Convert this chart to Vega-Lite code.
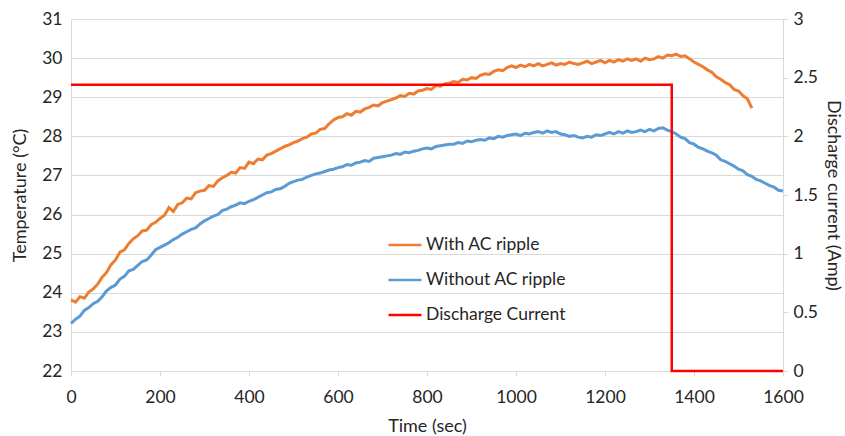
{
  "$schema": "https://vega.github.io/schema/vega-lite/v6.json",
  "width": 712,
  "height": 352,
  "autosize": {"type": "none"},
  "padding": {"left": 71, "top": 19, "right": 62, "bottom": 65},
  "background": "white",
  "config": {
    "font": "Lato",
    "view": {"stroke": null},
    "axis": {"labelColor": "#262626", "titleColor": "#262626", "labelFontSize": 17.5, "titleFontSize": 18, "titleFontWeight": "normal", "labelFont": "Lato", "titleFont": "Lato"},
    "legend": {"labelFont": "Lato", "labelColor": "#262626"}
  },
  "datasets": {
    "temps": [
      {"t":0,"With AC ripple":23.82,"Without AC ripple":23.22},
      {"t":10,"With AC ripple":23.76,"Without AC ripple":23.32},
      {"t":20,"With AC ripple":23.9,"Without AC ripple":23.4},
      {"t":30,"With AC ripple":23.86,"Without AC ripple":23.55},
      {"t":40,"With AC ripple":24.02,"Without AC ripple":23.62},
      {"t":50,"With AC ripple":24.1,"Without AC ripple":23.72},
      {"t":60,"With AC ripple":24.22,"Without AC ripple":23.78},
      {"t":70,"With AC ripple":24.4,"Without AC ripple":23.9},
      {"t":80,"With AC ripple":24.52,"Without AC ripple":24.05},
      {"t":90,"With AC ripple":24.72,"Without AC ripple":24.14},
      {"t":100,"With AC ripple":24.84,"Without AC ripple":24.2},
      {"t":110,"With AC ripple":25.04,"Without AC ripple":24.35},
      {"t":120,"With AC ripple":25.1,"Without AC ripple":24.42},
      {"t":130,"With AC ripple":25.26,"Without AC ripple":24.56},
      {"t":140,"With AC ripple":25.38,"Without AC ripple":24.6},
      {"t":150,"With AC ripple":25.46,"Without AC ripple":24.7},
      {"t":160,"With AC ripple":25.58,"Without AC ripple":24.8},
      {"t":170,"With AC ripple":25.6,"Without AC ripple":24.84},
      {"t":180,"With AC ripple":25.74,"Without AC ripple":24.96},
      {"t":190,"With AC ripple":25.8,"Without AC ripple":25.1},
      {"t":200,"With AC ripple":25.9,"Without AC ripple":25.16},
      {"t":210,"With AC ripple":25.98,"Without AC ripple":25.22},
      {"t":220,"With AC ripple":26.18,"Without AC ripple":25.28},
      {"t":230,"With AC ripple":26.08,"Without AC ripple":25.36},
      {"t":240,"With AC ripple":26.26,"Without AC ripple":25.42},
      {"t":250,"With AC ripple":26.3,"Without AC ripple":25.5},
      {"t":260,"With AC ripple":26.42,"Without AC ripple":25.56},
      {"t":270,"With AC ripple":26.4,"Without AC ripple":25.62},
      {"t":280,"With AC ripple":26.56,"Without AC ripple":25.66},
      {"t":290,"With AC ripple":26.6,"Without AC ripple":25.76},
      {"t":300,"With AC ripple":26.62,"Without AC ripple":25.84},
      {"t":310,"With AC ripple":26.74,"Without AC ripple":25.9},
      {"t":320,"With AC ripple":26.72,"Without AC ripple":25.96},
      {"t":330,"With AC ripple":26.86,"Without AC ripple":26.0},
      {"t":340,"With AC ripple":26.94,"Without AC ripple":26.1},
      {"t":350,"With AC ripple":27.0,"Without AC ripple":26.14},
      {"t":360,"With AC ripple":27.08,"Without AC ripple":26.2},
      {"t":370,"With AC ripple":27.06,"Without AC ripple":26.24},
      {"t":380,"With AC ripple":27.2,"Without AC ripple":26.3},
      {"t":390,"With AC ripple":27.18,"Without AC ripple":26.28},
      {"t":400,"With AC ripple":27.34,"Without AC ripple":26.34},
      {"t":410,"With AC ripple":27.3,"Without AC ripple":26.38},
      {"t":420,"With AC ripple":27.42,"Without AC ripple":26.44},
      {"t":430,"With AC ripple":27.4,"Without AC ripple":26.5},
      {"t":440,"With AC ripple":27.52,"Without AC ripple":26.56},
      {"t":450,"With AC ripple":27.56,"Without AC ripple":26.58},
      {"t":460,"With AC ripple":27.62,"Without AC ripple":26.64},
      {"t":470,"With AC ripple":27.68,"Without AC ripple":26.66},
      {"t":480,"With AC ripple":27.74,"Without AC ripple":26.72},
      {"t":490,"With AC ripple":27.78,"Without AC ripple":26.8},
      {"t":500,"With AC ripple":27.84,"Without AC ripple":26.84},
      {"t":510,"With AC ripple":27.88,"Without AC ripple":26.88},
      {"t":520,"With AC ripple":27.94,"Without AC ripple":26.9},
      {"t":530,"With AC ripple":27.98,"Without AC ripple":26.96},
      {"t":540,"With AC ripple":28.06,"Without AC ripple":27.0},
      {"t":550,"With AC ripple":28.08,"Without AC ripple":27.04},
      {"t":560,"With AC ripple":28.18,"Without AC ripple":27.06},
      {"t":570,"With AC ripple":28.2,"Without AC ripple":27.1},
      {"t":580,"With AC ripple":28.32,"Without AC ripple":27.14},
      {"t":590,"With AC ripple":28.42,"Without AC ripple":27.16},
      {"t":600,"With AC ripple":28.48,"Without AC ripple":27.2},
      {"t":610,"With AC ripple":28.5,"Without AC ripple":27.22},
      {"t":620,"With AC ripple":28.58,"Without AC ripple":27.28},
      {"t":630,"With AC ripple":28.54,"Without AC ripple":27.26},
      {"t":640,"With AC ripple":28.64,"Without AC ripple":27.32},
      {"t":650,"With AC ripple":28.62,"Without AC ripple":27.34},
      {"t":660,"With AC ripple":28.7,"Without AC ripple":27.38},
      {"t":670,"With AC ripple":28.74,"Without AC ripple":27.36},
      {"t":680,"With AC ripple":28.8,"Without AC ripple":27.44},
      {"t":690,"With AC ripple":28.78,"Without AC ripple":27.46},
      {"t":700,"With AC ripple":28.86,"Without AC ripple":27.48},
      {"t":710,"With AC ripple":28.9,"Without AC ripple":27.5},
      {"t":720,"With AC ripple":28.94,"Without AC ripple":27.52},
      {"t":730,"With AC ripple":28.98,"Without AC ripple":27.56},
      {"t":740,"With AC ripple":29.04,"Without AC ripple":27.54},
      {"t":750,"With AC ripple":29.02,"Without AC ripple":27.6},
      {"t":760,"With AC ripple":29.1,"Without AC ripple":27.58},
      {"t":770,"With AC ripple":29.08,"Without AC ripple":27.62},
      {"t":780,"With AC ripple":29.16,"Without AC ripple":27.64},
      {"t":790,"With AC ripple":29.18,"Without AC ripple":27.68},
      {"t":800,"With AC ripple":29.22,"Without AC ripple":27.7},
      {"t":810,"With AC ripple":29.2,"Without AC ripple":27.68},
      {"t":820,"With AC ripple":29.3,"Without AC ripple":27.74},
      {"t":830,"With AC ripple":29.28,"Without AC ripple":27.76},
      {"t":840,"With AC ripple":29.34,"Without AC ripple":27.78},
      {"t":850,"With AC ripple":29.36,"Without AC ripple":27.8},
      {"t":860,"With AC ripple":29.4,"Without AC ripple":27.8},
      {"t":870,"With AC ripple":29.38,"Without AC ripple":27.84},
      {"t":880,"With AC ripple":29.46,"Without AC ripple":27.82},
      {"t":890,"With AC ripple":29.44,"Without AC ripple":27.88},
      {"t":900,"With AC ripple":29.5,"Without AC ripple":27.86},
      {"t":910,"With AC ripple":29.48,"Without AC ripple":27.9},
      {"t":920,"With AC ripple":29.56,"Without AC ripple":27.92},
      {"t":930,"With AC ripple":29.6,"Without AC ripple":27.9},
      {"t":940,"With AC ripple":29.58,"Without AC ripple":27.96},
      {"t":950,"With AC ripple":29.66,"Without AC ripple":27.94},
      {"t":960,"With AC ripple":29.7,"Without AC ripple":28.0},
      {"t":970,"With AC ripple":29.68,"Without AC ripple":27.98},
      {"t":980,"With AC ripple":29.76,"Without AC ripple":28.02},
      {"t":990,"With AC ripple":29.8,"Without AC ripple":28.04},
      {"t":1000,"With AC ripple":29.76,"Without AC ripple":28.06},
      {"t":1010,"With AC ripple":29.82,"Without AC ripple":28.02},
      {"t":1020,"With AC ripple":29.78,"Without AC ripple":28.08},
      {"t":1030,"With AC ripple":29.84,"Without AC ripple":28.06},
      {"t":1040,"With AC ripple":29.8,"Without AC ripple":28.1},
      {"t":1050,"With AC ripple":29.86,"Without AC ripple":28.12},
      {"t":1060,"With AC ripple":29.8,"Without AC ripple":28.08},
      {"t":1070,"With AC ripple":29.84,"Without AC ripple":28.14},
      {"t":1080,"With AC ripple":29.88,"Without AC ripple":28.1},
      {"t":1090,"With AC ripple":29.82,"Without AC ripple":28.12},
      {"t":1100,"With AC ripple":29.86,"Without AC ripple":28.06},
      {"t":1110,"With AC ripple":29.84,"Without AC ripple":28.04},
      {"t":1120,"With AC ripple":29.9,"Without AC ripple":28.0},
      {"t":1130,"With AC ripple":29.86,"Without AC ripple":28.02},
      {"t":1140,"With AC ripple":29.84,"Without AC ripple":27.98},
      {"t":1150,"With AC ripple":29.88,"Without AC ripple":27.96},
      {"t":1160,"With AC ripple":29.92,"Without AC ripple":28.0},
      {"t":1170,"With AC ripple":29.86,"Without AC ripple":27.98},
      {"t":1180,"With AC ripple":29.9,"Without AC ripple":28.04},
      {"t":1190,"With AC ripple":29.94,"Without AC ripple":28.02},
      {"t":1200,"With AC ripple":29.88,"Without AC ripple":28.06},
      {"t":1210,"With AC ripple":29.94,"Without AC ripple":28.1},
      {"t":1220,"With AC ripple":29.9,"Without AC ripple":28.06},
      {"t":1230,"With AC ripple":29.96,"Without AC ripple":28.12},
      {"t":1240,"With AC ripple":29.92,"Without AC ripple":28.08},
      {"t":1250,"With AC ripple":29.98,"Without AC ripple":28.14},
      {"t":1260,"With AC ripple":29.94,"Without AC ripple":28.1},
      {"t":1270,"With AC ripple":29.98,"Without AC ripple":28.12},
      {"t":1280,"With AC ripple":29.92,"Without AC ripple":28.16},
      {"t":1290,"With AC ripple":30.0,"Without AC ripple":28.12},
      {"t":1300,"With AC ripple":29.96,"Without AC ripple":28.18},
      {"t":1310,"With AC ripple":29.98,"Without AC ripple":28.14},
      {"t":1320,"With AC ripple":30.04,"Without AC ripple":28.2},
      {"t":1330,"With AC ripple":30.0,"Without AC ripple":28.22},
      {"t":1340,"With AC ripple":30.08,"Without AC ripple":28.16},
      {"t":1350,"With AC ripple":30.06,"Without AC ripple":28.12},
      {"t":1360,"With AC ripple":30.1,"Without AC ripple":28.06},
      {"t":1370,"With AC ripple":30.04,"Without AC ripple":27.98},
      {"t":1380,"With AC ripple":30.06,"Without AC ripple":27.94},
      {"t":1390,"With AC ripple":29.98,"Without AC ripple":27.84},
      {"t":1400,"With AC ripple":29.9,"Without AC ripple":27.8},
      {"t":1410,"With AC ripple":29.84,"Without AC ripple":27.72},
      {"t":1420,"With AC ripple":29.78,"Without AC ripple":27.68},
      {"t":1430,"With AC ripple":29.7,"Without AC ripple":27.62},
      {"t":1440,"With AC ripple":29.64,"Without AC ripple":27.58},
      {"t":1450,"With AC ripple":29.52,"Without AC ripple":27.52},
      {"t":1460,"With AC ripple":29.46,"Without AC ripple":27.4},
      {"t":1470,"With AC ripple":29.38,"Without AC ripple":27.36},
      {"t":1480,"With AC ripple":29.32,"Without AC ripple":27.3},
      {"t":1490,"With AC ripple":29.2,"Without AC ripple":27.24},
      {"t":1500,"With AC ripple":29.16,"Without AC ripple":27.16},
      {"t":1510,"With AC ripple":29.04,"Without AC ripple":27.12},
      {"t":1520,"With AC ripple":28.96,"Without AC ripple":27.02},
      {"t":1530,"With AC ripple":28.72,"Without AC ripple":26.98},
      {"t":1540,"Without AC ripple":26.9},
      {"t":1550,"Without AC ripple":26.86},
      {"t":1560,"Without AC ripple":26.8},
      {"t":1570,"Without AC ripple":26.74},
      {"t":1580,"Without AC ripple":26.7},
      {"t":1590,"Without AC ripple":26.62},
      {"t":1600,"Without AC ripple":26.6}
    ],
    "current": [
      {"t":0,"amp":2.44,"series":"Discharge Current"},
      {"t":1350,"amp":2.44,"series":"Discharge Current"},
      {"t":1350,"amp":0,"series":"Discharge Current"},
      {"t":1600,"amp":0,"series":"Discharge Current"}
    ]
  },
  "layer": [
    {
      "data": {"name": "temps"},
      "transform": [{"fold": ["With AC ripple", "Without AC ripple"], "as": ["series", "temp"]}],
      "mark": {"type": "line", "strokeWidth": 3, "interpolate": "linear"},
      "encoding": {
        "x": {"field": "t", "type": "quantitative", "scale": {"domain": [0, 1600], "nice": false},
          "axis": {"title": "Time (sec)", "values": [0,200,400,600,800,1000,1200,1400,1600], "format": "d", "grid": false, "domainColor": "#d9d9d9", "tickColor": "#d9d9d9", "tickSize": 5, "labelPadding": 12, "titlePadding": 12, "labelFlush": false}},
        "y": {"field": "temp", "type": "quantitative", "scale": {"domain": [22, 31], "nice": false, "zero": false},
          "axis": {"title": "Temperature (°C)", "values": [22,23,24,25,26,27,28,29,30,31], "format": "d", "grid": true, "gridColor": "#d9d9d9", "domainColor": "#d9d9d9", "ticks": false, "labelPadding": 9, "titlePadding": 12}},
        "color": {"field": "series", "type": "nominal",
          "scale": {"domain": ["With AC ripple", "Without AC ripple", "Discharge Current"], "range": ["#ED7D31", "#5B9BD5", "#FF0000"]},
          "legend": {"title": null, "orient": "none", "legendX": 316, "legendY": 208, "symbolType": "stroke", "symbolSize": 1089, "symbolStrokeWidth": 2.5, "labelFontSize": 17.5, "labelOffset": 3, "rowPadding": 8, "padding": 0}},
        "order": {"field": "t", "type": "quantitative"}
      }
    },
    {
      "data": {"name": "current"},
      "mark": {"type": "line", "strokeWidth": 2.5},
      "encoding": {
        "x": {"field": "t", "type": "quantitative", "scale": {"domain": [0, 1600], "nice": false}},
        "y": {"field": "amp", "type": "quantitative", "scale": {"domain": [0, 3], "nice": false},
          "axis": {"orient": "right", "title": "Discharge current (Amp)", "values": [0,0.5,1,1.5,2,2.5,3], "format": "~g", "grid": false, "domainColor": "#d9d9d9", "tickColor": "#d9d9d9", "tickSize": 5, "labelPadding": 5, "titlePadding": 6}},
        "color": {"field": "series", "type": "nominal",
          "scale": {"domain": ["With AC ripple", "Without AC ripple", "Discharge Current"], "range": ["#ED7D31", "#5B9BD5", "#FF0000"]}},
        "order": {"field": "t", "type": "quantitative"}
      }
    }
  ],
  "resolve": {"scale": {"y": "independent"}}
}
